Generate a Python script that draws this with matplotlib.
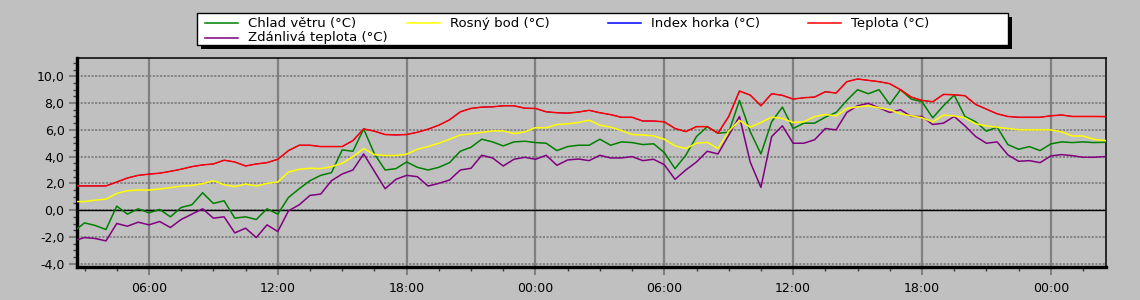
#!/usr/bin/env python3
"""Weather station chart: temperatures over two days."""
from __future__ import annotations

import matplotlib

matplotlib.use("Agg")
import matplotlib.pyplot as plt
import numpy as np
from matplotlib.lines import Line2D
from matplotlib.patches import Rectangle
from matplotlib.ticker import FuncFormatter, MultipleLocator

# sample times in hours from midnight of the first day, every 30 min
HOURS = np.arange(2.5, 51.01, 0.5)

TEPLOTA = [
    1.81, 1.81, 1.81, 1.81, 2.1, 2.4, 2.6, 2.69, 2.76, 2.9, 3.06, 3.25,
    3.38, 3.45, 3.73, 3.6, 3.3, 3.45, 3.55, 3.8, 4.45, 4.85, 4.85, 4.75,
    4.75, 4.75, 5.2, 6.07, 5.9, 5.65, 5.62, 5.65, 5.82, 6.05, 6.35, 6.75,
    7.35, 7.6, 7.7, 7.72, 7.8, 7.8, 7.62, 7.6, 7.35, 7.28, 7.25, 7.33,
    7.46, 7.28, 7.14, 6.94, 6.94, 6.66, 6.66, 6.6, 6.1, 5.87, 6.24, 6.24,
    5.75, 7.0, 8.9, 8.6, 7.8, 8.7, 8.58, 8.3, 8.4, 8.45, 8.85, 8.75,
    9.6, 9.8, 9.7, 9.6, 9.45, 9.0, 8.45, 8.2, 8.1, 8.65, 8.62, 8.55,
    7.9, 7.55, 7.2, 7.0, 6.94, 6.94, 6.94, 7.05, 7.11, 7.0, 7.0, 7.0,
    6.99, 6.99,
]
# heat index equals the temperature here, hidden under the red line
INDEX_HORKA = list(TEPLOTA)
ROSNY_BOD = [
    0.64, 0.64, 0.75, 0.82, 1.25, 1.45, 1.5, 1.5, 1.58, 1.68, 1.8, 1.84,
    1.98, 2.2, 1.9, 1.76, 1.95, 1.8, 2.0, 2.1, 2.85, 3.05, 3.13, 3.1,
    3.25, 3.5, 4.0, 4.6, 4.15, 4.08, 4.08, 4.18, 4.55, 4.75, 5.0, 5.3,
    5.62, 5.7, 5.82, 5.92, 5.92, 5.72, 5.85, 6.16, 6.16, 6.4, 6.45, 6.55,
    6.72, 6.35, 6.2, 5.95, 5.65, 5.62, 5.55, 5.3, 4.8, 4.6, 5.0, 5.07,
    4.6, 5.9, 6.7, 6.2, 6.55, 6.95, 6.85, 6.55, 6.6, 6.99, 7.15, 7.04,
    7.6, 7.72, 7.8, 7.65, 7.5, 7.2, 7.05, 6.9, 6.6, 7.1, 7.04, 6.9,
    6.45, 6.3, 6.2, 6.1, 6.0, 6.0, 6.0, 6.0, 5.85, 5.54, 5.54, 5.3,
    5.2, 5.2,
]
CHLAD_VETRU = [
    -1.6, -0.95, -1.15, -1.45, 0.3, -0.3, 0.1, -0.2, 0.05, -0.5, 0.2, 0.4,
    1.3, 0.5, 0.7, -0.6, -0.5, -0.7, 0.1, -0.3, 0.95, 1.6, 2.2, 2.6,
    2.8, 4.5, 4.4, 6.07, 4.2, 3.0, 3.1, 3.6, 3.2, 3.0, 3.2, 3.55,
    4.4, 4.7, 5.3, 5.1, 4.8, 5.1, 5.15, 5.05, 5.0, 4.45, 4.75, 4.85,
    4.85, 5.3, 4.85, 5.1, 5.05, 4.9, 4.96, 4.3, 3.1, 4.1, 5.5, 6.24,
    5.75, 5.82, 8.2, 5.87, 4.2, 6.6, 7.7, 6.1, 6.5, 6.5, 6.95, 7.3,
    8.2, 9.0, 8.7, 9.0, 7.9, 9.0, 8.3, 8.1, 6.9, 7.8, 8.6, 7.0,
    6.6, 5.9, 6.2, 4.9, 4.55, 4.75, 4.45, 4.95, 5.1, 5.05, 5.1, 5.05,
    5.07, 5.07,
]
ZDANLIVA = [
    -2.3, -2.05, -2.12, -2.3, -1.0, -1.2, -0.9, -1.1, -0.85, -1.3, -0.7, -0.3,
    0.1, -0.6, -0.5, -1.7, -1.35, -2.05, -1.1, -1.6, -0.05, 0.4, 1.1, 1.2,
    2.2, 2.7, 3.0, 4.2, 2.9, 1.6, 2.3, 2.6, 2.5, 1.8, 2.0, 2.25,
    3.0, 3.13, 4.1, 3.9, 3.3, 3.8, 3.95, 3.8, 4.1, 3.35, 3.75, 3.82,
    3.7, 4.1, 3.9, 3.9, 4.0, 3.7, 3.8, 3.4, 2.3, 3.0, 3.6, 4.4,
    4.2, 5.6, 7.0, 3.6, 1.7, 5.5, 6.3, 5.0, 5.0, 5.26, 6.1, 6.0,
    7.3, 7.8, 7.98, 7.65, 7.3, 7.5, 7.0, 7.0, 6.4, 6.5, 7.0, 6.3,
    5.5, 5.0, 5.1, 4.13, 3.65, 3.7, 3.55, 4.05, 4.15, 4.07, 3.95, 3.95,
    4.0, 4.0,
]

LEGEND_LABELS = [
    "Chlad větru (°C)",
    "Rosný bod (°C)",
    "Index horka (°C)",
    "Teplota (°C)",
    "Zdánlivá teplota (°C)",
]
LEGEND_COLORS = ["#008000", "#FFFF00", "#0000FF", "#FF0000", "#800080"]

BG = "#C0C0C0"
GRID = "#808080"
W, H = 1140, 300


def fx(px: float) -> float:
    return px / W


def fy(py: float) -> float:
    return 1 - py / H


def draw_legend(fig: plt.Figure) -> None:
    left, right, top, bottom = 197, 1008, 13, 45
    fig.add_artist(Rectangle((fx(left + 4), fy(bottom + 4)), fx(right - left),
                             (bottom - top) / H, transform=fig.transFigure,
                             facecolor="black", edgecolor="none", zorder=5))
    fig.add_artist(Rectangle((fx(left), fy(bottom)), fx(right - left),
                             (bottom - top) / H, transform=fig.transFigure,
                             facecolor="white", edgecolor="black", lw=1.0, zorder=6))
    slots = [(205, 23), (407, 23), (608, 23), (808, 23), (205, 38)]
    for (x0, y0), label, color in zip(slots, LEGEND_LABELS, LEGEND_COLORS):
        fig.add_artist(Line2D([fx(x0), fx(x0 + 33)], [fy(y0), fy(y0)],
                              transform=fig.transFigure, color=color, lw=1.1, zorder=7))
        fig.text(fx(x0 + 43), fy(y0), label, fontsize=9.5, va="center", ha="left",
                 zorder=7)


def main() -> None:
    plt.rcParams["font.family"] = ["DejaVu Sans"]
    fig = plt.figure(figsize=(W / 100, H / 100), dpi=100, facecolor=BG)
    ax = fig.add_axes([fx(77), fy(267), fx(1106 - 77), (267 - 58) / H], facecolor=BG)

    # thinner so the red line covers it completely
    ax.plot(HOURS, INDEX_HORKA, color="#0000FF", lw=0.6, zorder=3)
    ax.plot(HOURS, ZDANLIVA, color="#800080", lw=1.1, zorder=3)
    ax.plot(HOURS, CHLAD_VETRU, color="#008000", lw=1.1, zorder=3)
    ax.plot(HOURS, ROSNY_BOD, color="#FFFF00", lw=1.1, zorder=3)
    ax.plot(HOURS, TEPLOTA, color="#FF0000", lw=1.1, zorder=3)
    ax.axhline(0, color="black", lw=1.0, zorder=2)

    ax.set_xlim(2.65, 50.57)
    ax.set_ylim(-4.25, 11.37)

    ax.xaxis.set_major_locator(MultipleLocator(6))
    ax.xaxis.set_minor_locator(MultipleLocator(1.5))
    ax.xaxis.set_major_formatter(FuncFormatter(lambda v, _: f"{int(round(v)) % 24:02d}:00"))
    ax.yaxis.set_major_locator(MultipleLocator(2))
    ax.yaxis.set_minor_locator(MultipleLocator(0.5))
    ax.yaxis.set_major_formatter(FuncFormatter(lambda v, _: f"{v:.1f}".replace(".", ",")))

    ax.tick_params(axis="both", which="major", labelsize=9, colors=GRID,
                   labelcolor="black", length=6, width=1.5)
    ax.tick_params(axis="both", which="minor", color="#404040", length=3, width=1)
    ax.tick_params(axis="x", which="major", pad=5)
    ax.tick_params(axis="y", which="major", pad=3)

    ax.grid(True, axis="y", which="major", color=GRID, lw=1.3, linestyle=(0, (1.2, 0.8)))
    ax.grid(True, axis="x", which="major", color=GRID, lw=1.6, linestyle="-")
    ax.set_axisbelow(True)

    for side in ("left", "bottom"):
        ax.spines[side].set_linewidth(2.4)
        ax.spines[side].set_color("black")
    for side in ("top", "right"):
        ax.spines[side].set_linewidth(1.1)
        ax.spines[side].set_color("black")

    draw_legend(fig)
    fig.savefig("out.png", dpi=100, facecolor=BG)
    plt.close(fig)


if __name__ == "__main__":
    main()
